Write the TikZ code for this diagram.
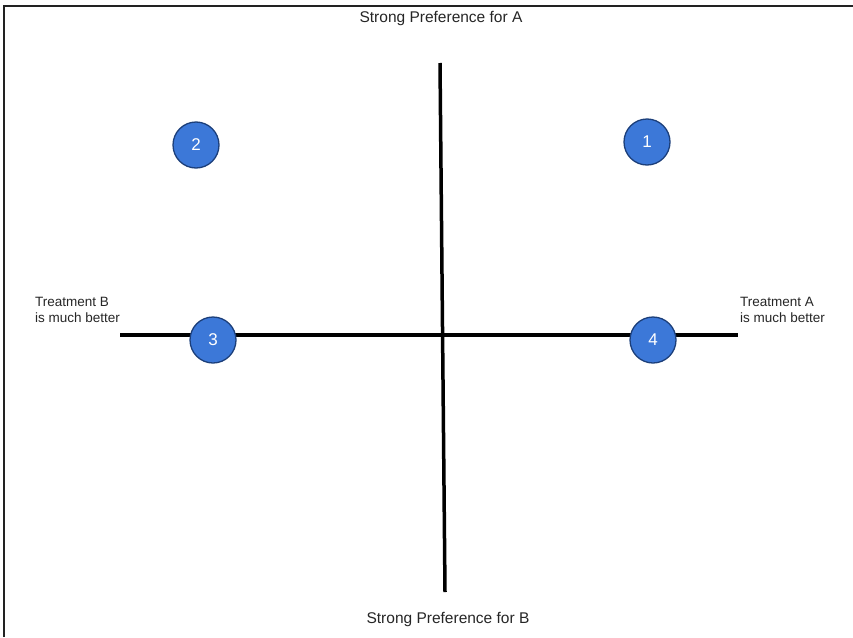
\documentclass[tikz,border=0pt]{standalone}
\usepackage{fontspec}
\setmainfont{Liberation Sans}
\definecolor{dotblue}{HTML}{3C78D8}
\definecolor{dotedge}{HTML}{1C3F7A}
\definecolor{frame}{HTML}{222222}
\begin{document}
\begin{tikzpicture}[x=1pt,y=-1pt,
  dot/.style={circle,fill=dotblue,draw=dotedge,line width=1.3pt,minimum size=46pt,inner sep=0pt,text=white,font=\fontsize{17}{17}\selectfont},
  axis/.style={line width=3.5pt,black},
  lbl/.style={font=\fontsize{15.5}{18}\selectfont,text=black!85,inner sep=0pt},
  sidelbl/.style={font=\fontsize{13.5}{16}\selectfont,text=black!85,inner sep=0pt,align=left,anchor=west}]
\useasboundingbox (0,0) rectangle (853,637);
\fill[white] (0,0) rectangle (853,637);
\draw[frame,line width=2pt] (4,637) -- (4,6) -- (853,6);
\coordinate (vt) at (440,63);
\coordinate (vb) at (445,592);
\coordinate (hl) at (120,335);
\coordinate (hr) at (738,335);
\draw[axis] (vt) -- (vb);
\draw[axis] (hl) -- (hr);
\node[dot] (d1) at (647,142) {1};
\node[dot] (d2) at (196,145) {2};
\node[dot] (d3) at (213,340) {3};
\node[dot] (d4) at (653,340) {4};
\node[lbl] (ta) at (441,18) {Strong Preference for A};
\node[lbl] (tb) at (448,619) {Strong Preference for B};
\node[sidelbl] (lb) at (35,310) {Treatment B\\is much better};
\node[sidelbl] (la) at (740,310) {Treatment A\\is much better};
\end{tikzpicture}
\end{document}
